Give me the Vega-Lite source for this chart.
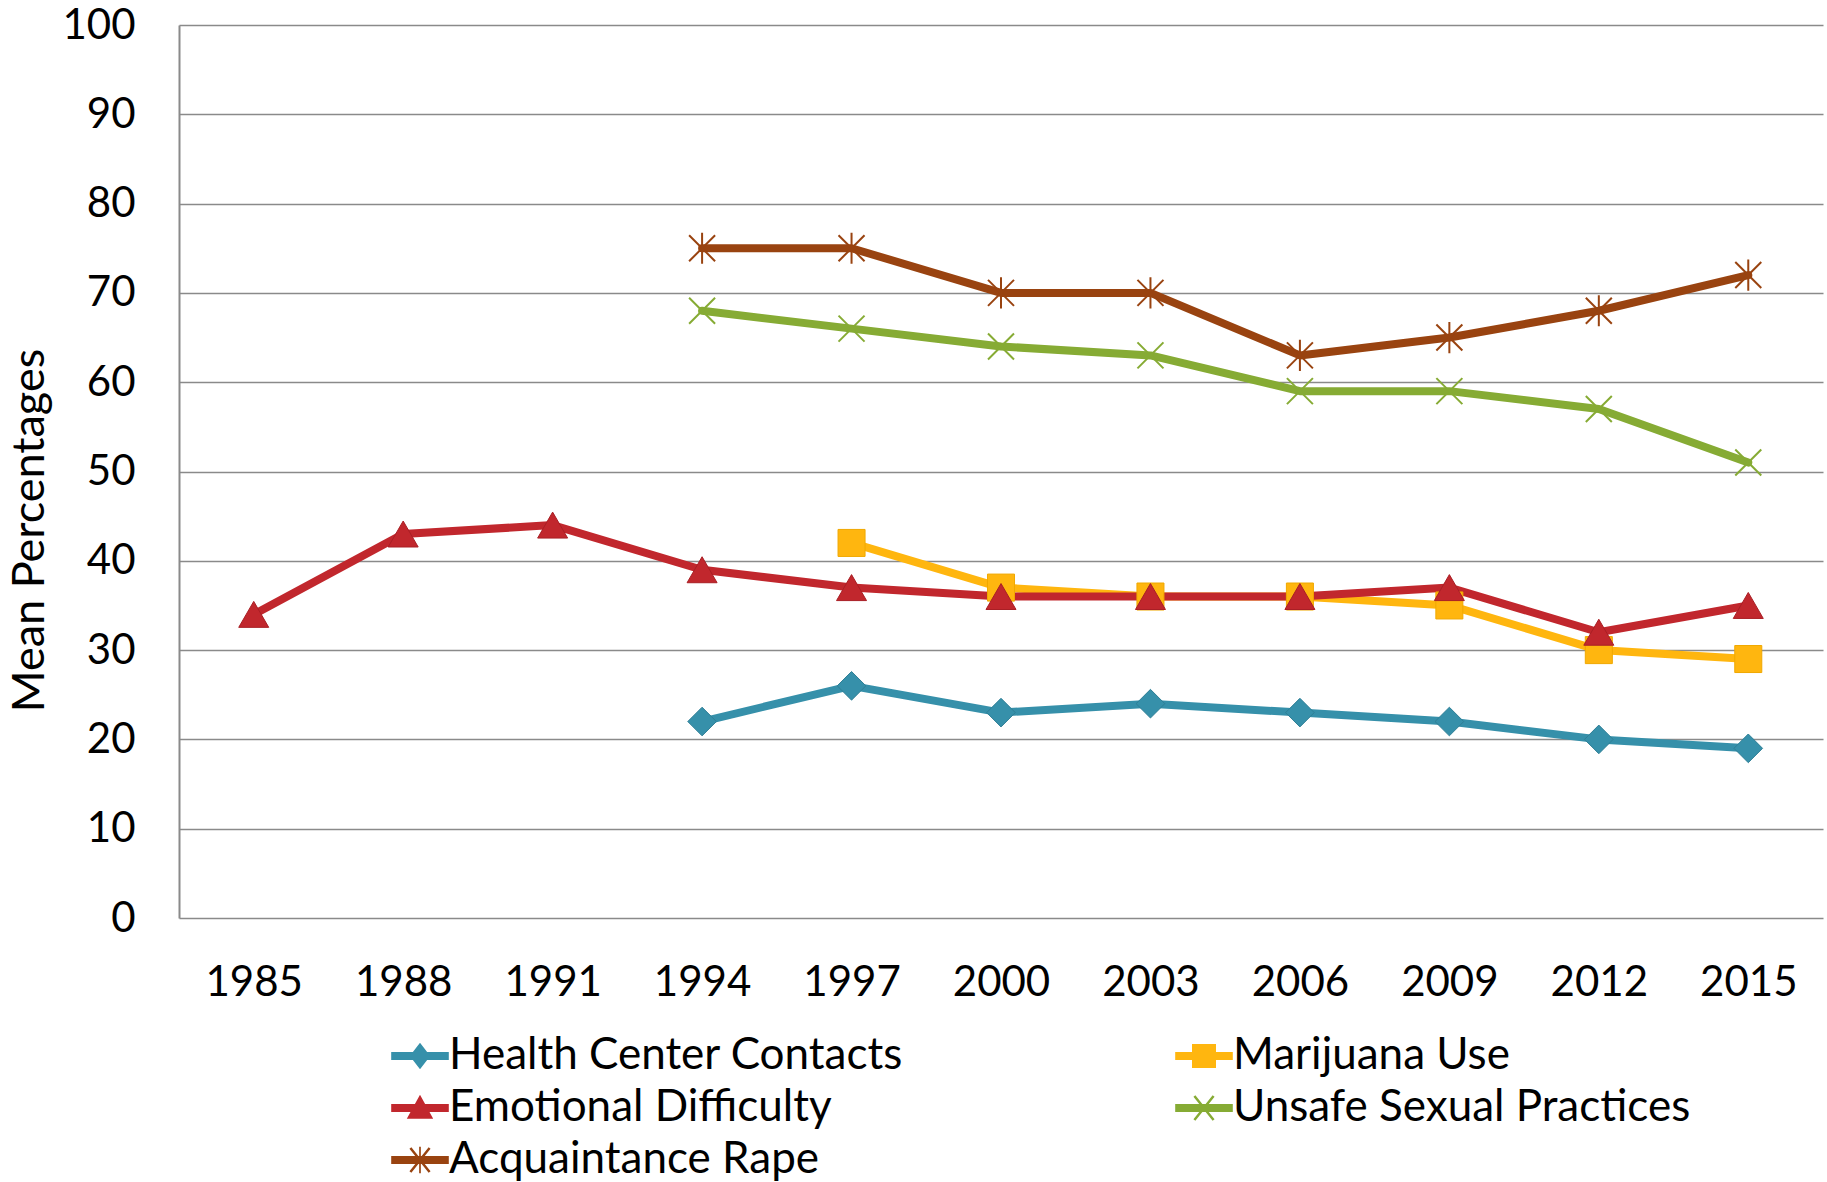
{
  "$schema": "https://vega.github.io/schema/vega-lite/v6.json",
  "width": 1644,
  "height": 893,
  "autosize": {"type": "none"},
  "padding": {"left": 179, "top": 25, "right": 4, "bottom": 264},
  "config": {"view": {"stroke": null}, "font": "Lato", "legend": {"padding": 0}},
  "data": {
    "values": [
      {"series": "Health Center Contacts", "year": "1994", "value": 22},
      {"series": "Health Center Contacts", "year": "1997", "value": 26},
      {"series": "Health Center Contacts", "year": "2000", "value": 23},
      {"series": "Health Center Contacts", "year": "2003", "value": 24},
      {"series": "Health Center Contacts", "year": "2006", "value": 23},
      {"series": "Health Center Contacts", "year": "2009", "value": 22},
      {"series": "Health Center Contacts", "year": "2012", "value": 20},
      {"series": "Health Center Contacts", "year": "2015", "value": 19},
      {"series": "Marijuana Use", "year": "1997", "value": 42},
      {"series": "Marijuana Use", "year": "2000", "value": 37},
      {"series": "Marijuana Use", "year": "2003", "value": 36},
      {"series": "Marijuana Use", "year": "2006", "value": 36},
      {"series": "Marijuana Use", "year": "2009", "value": 35},
      {"series": "Marijuana Use", "year": "2012", "value": 30},
      {"series": "Marijuana Use", "year": "2015", "value": 29},
      {"series": "Emotional Difficulty", "year": "1985", "value": 34},
      {"series": "Emotional Difficulty", "year": "1988", "value": 43},
      {"series": "Emotional Difficulty", "year": "1991", "value": 44},
      {"series": "Emotional Difficulty", "year": "1994", "value": 39},
      {"series": "Emotional Difficulty", "year": "1997", "value": 37},
      {"series": "Emotional Difficulty", "year": "2000", "value": 36},
      {"series": "Emotional Difficulty", "year": "2003", "value": 36},
      {"series": "Emotional Difficulty", "year": "2006", "value": 36},
      {"series": "Emotional Difficulty", "year": "2009", "value": 37},
      {"series": "Emotional Difficulty", "year": "2012", "value": 32},
      {"series": "Emotional Difficulty", "year": "2015", "value": 35},
      {"series": "Unsafe Sexual Practices", "year": "1994", "value": 68},
      {"series": "Unsafe Sexual Practices", "year": "1997", "value": 66},
      {"series": "Unsafe Sexual Practices", "year": "2000", "value": 64},
      {"series": "Unsafe Sexual Practices", "year": "2003", "value": 63},
      {"series": "Unsafe Sexual Practices", "year": "2006", "value": 59},
      {"series": "Unsafe Sexual Practices", "year": "2009", "value": 59},
      {"series": "Unsafe Sexual Practices", "year": "2012", "value": 57},
      {"series": "Unsafe Sexual Practices", "year": "2015", "value": 51},
      {"series": "Acquaintance Rape", "year": "1994", "value": 75},
      {"series": "Acquaintance Rape", "year": "1997", "value": 75},
      {"series": "Acquaintance Rape", "year": "2000", "value": 70},
      {"series": "Acquaintance Rape", "year": "2003", "value": 70},
      {"series": "Acquaintance Rape", "year": "2006", "value": 63},
      {"series": "Acquaintance Rape", "year": "2009", "value": 65},
      {"series": "Acquaintance Rape", "year": "2012", "value": 68},
      {"series": "Acquaintance Rape", "year": "2015", "value": 72}
    ]
  },
  "encoding": {
    "x": {
      "field": "year", "type": "ordinal",
      "scale": {"type": "point", "padding": 0.5},
      "axis": {"title": null, "labelAngle": 0, "labelFontSize": 42, "labelColor": "#000000", "ticks": false, "domain": false, "labelPadding": 44}
    },
    "y": {
      "field": "value", "type": "quantitative",
      "scale": {"domain": [0, 100]},
      "axis": {
        "values": [0, 10, 20, 30, 40, 50, 60, 70, 80, 90, 100],
        "title": "Mean Percentages", "titleFontSize": 45, "titleFontWeight": "normal", "titleColor": "#000000", "titlePadding": 9, "titleY": 505,
        "labelFontSize": 42, "labelPadding": 44, "labelColor": "#000000", "ticks": false,
        "domainColor": "#8a8a8a", "domainWidth": 2, "gridColor": "#8a8a8a", "gridWidth": 1.5
      }
    },
    "color": {
      "field": "series", "type": "nominal",
      "scale": {
        "domain": ["Health Center Contacts", "Marijuana Use", "Emotional Difficulty", "Unsafe Sexual Practices", "Acquaintance Rape"],
        "range": ["#3690aa", "#ffb60f", "#c1272d", "#86ab34", "#994310"]
      },
      "legend": {
        "orient": "none", "legendX": 219, "legendY": 1009, "columns": 2, "direction": "horizontal", "title": null,
        "labelFontSize": 44, "labelColor": "#000000", "labelLimit": 0,
        "symbolSize": 576, "symbolStrokeWidth": 0, "labelOffset": 7, "rowPadding": 8, "columnPadding": 271
      }
    }
  },
  "layer": [
    {
      "mark": {"type": "line", "strokeWidth": 8, "strokeJoin": "round", "strokeCap": "round"},
      "encoding": {}
    },
    {
      "transform": [{"filter": "datum.value < 0"}],
      "mark": {"type": "point", "filled": true, "opacity": 1},
      "encoding": {
        "shape": {
          "field": "series", "type": "nominal",
          "scale": {
            "domain": ["Health Center Contacts", "Marijuana Use", "Emotional Difficulty", "Unsafe Sexual Practices", "Acquaintance Rape"],
            "range": [
              "M-2.4,-0.33H2.4V0.33H-2.4Z M0,-1.1L0.85,0L0,1.1L-0.85,0Z",
              "M-2.4,-0.33H2.4V0.33H-2.4Z M-1,-1H1V1H-1Z",
              "M-2.4,-0.33H2.4V0.33H-2.4Z M0,-1.1L1.1,0.9H-1.1Z",
              "M-2.4,-0.33H2.4V0.33H-2.4Z M-0.88,-0.94L-0.72,-1.06L0.88,0.94L0.72,1.06Z M0.88,-0.94L-0.72,1.06L-0.88,0.94L0.72,-1.06Z",
              "M-2.4,-0.33H2.4V0.33H-2.4Z M-0.88,-0.94L-0.72,-1.06L0.88,0.94L0.72,1.06Z M0.88,-0.94L-0.72,1.06L-0.88,0.94L0.72,-1.06Z M-0.07,-1.1H0.07V1.1H-0.07Z"
            ]
          }
        }
      }
    },
    {
      "transform": [{"filter": "datum.series === 'Health Center Contacts'"}],
      "mark": {"type": "point", "filled": true, "opacity": 1, "shape": "diamond", "size": 820, "stroke": "#2f7f96", "strokeWidth": 1},
      "encoding": {}
    },
    {
      "transform": [{"filter": "datum.series === 'Marijuana Use'"}],
      "mark": {"type": "point", "filled": true, "opacity": 1, "shape": "square", "size": 730, "stroke": "#f0a800", "strokeWidth": 1},
      "encoding": {}
    },
    {
      "transform": [{"filter": "datum.series === 'Emotional Difficulty'"}],
      "mark": {"type": "point", "filled": true, "opacity": 1, "shape": "triangle-up", "size": 900, "stroke": "#a91f25", "strokeWidth": 1},
      "encoding": {}
    },
    {
      "transform": [{"filter": "datum.series === 'Unsafe Sexual Practices'"}],
      "mark": {"type": "point", "filled": false, "opacity": 1, "shape": "M-1,-1L1,1M1,-1L-1,1", "size": 676, "strokeWidth": 2},
      "encoding": {}
    },
    {
      "transform": [{"filter": "datum.series === 'Acquaintance Rape'"}],
      "mark": {"type": "point", "filled": false, "opacity": 1, "shape": "M-1,-1L1,1M1,-1L-1,1M0,-1.2L0,1.2", "size": 676, "strokeWidth": 2},
      "encoding": {}
    }
  ]
}
